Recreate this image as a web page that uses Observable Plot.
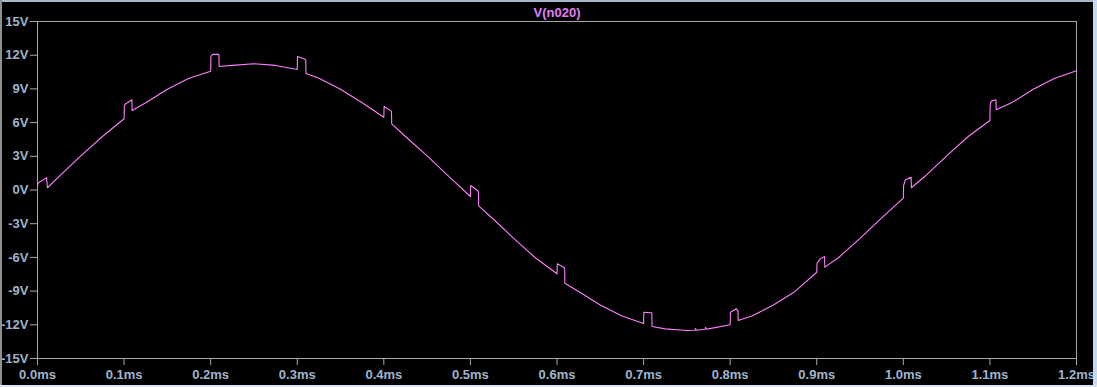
<!DOCTYPE html>
<html>
<head>
<meta charset="utf-8">
<script src="https://cdn.jsdelivr.net/npm/d3@7"></script>
<script src="https://cdn.jsdelivr.net/npm/@observablehq/plot@0.6"></script>
<style>
  html, body { margin: 0; padding: 0; background: #000; }
  #wrap { position: relative; width: 1097px; height: 387px; overflow: hidden; }
  .edge { position: absolute; }
</style>
</head>
<body>
<div id="wrap"></div>
<script>
const traceName = "V(n020)";
const xTicks = [0, 0.1, 0.2, 0.3, 0.4, 0.5, 0.6, 0.7, 0.8, 0.9, 1.0, 1.1, 1.2];
const yTicks = [-15, -12, -9, -6, -3, 0, 3, 6, 9, 12, 15];

// time in ms
const timeMs = [
  0, 0.0005, 0.0105, 0.0115, 0.025, 0.05, 0.075,
  0.1, 0.1003, 0.1015, 0.109, 0.1093, 0.125, 0.15, 0.175,
  0.2, 0.2003, 0.2025, 0.2095, 0.2098, 0.225, 0.25, 0.275,
  0.3, 0.3003, 0.3098, 0.3101, 0.325, 0.35, 0.375,
  0.4, 0.4003, 0.4088, 0.4091, 0.425, 0.45, 0.475,
  0.5, 0.5003, 0.5092, 0.5095, 0.525, 0.55, 0.575,
  0.6, 0.6003, 0.6088, 0.6091, 0.625, 0.65, 0.675,
  0.7, 0.7003, 0.7095, 0.7098, 0.725, 0.75, 0.7595, 0.76, 0.761, 0.771, 0.7715, 0.773, 0.775,
  0.8, 0.8003, 0.8072, 0.809, 0.8093, 0.825, 0.85, 0.875,
  0.9, 0.9003, 0.904, 0.909, 0.9093, 0.925, 0.95, 0.975,
  1.0, 1.0003, 1.0025, 1.009, 1.0093, 1.025, 1.05, 1.075,
  1.1, 1.1003, 1.1015, 1.107, 1.1073, 1.125, 1.15, 1.175,
  1.2
];
// voltage in V at those times
const voltage = [
  0.25, 0.6, 1.10, 0.20, 1.22, 3.03, 4.76,
  6.34, 7.52, 7.65, 8.03, 7.08, 7.76, 8.97, 9.95,
  10.58, 11.91, 12.07, 12.07, 11.00, 11.09, 11.24, 11.09,
  10.73, 11.89, 11.62, 10.37, 9.95, 8.97, 7.76,
  6.48, 7.44, 7.02, 5.89, 4.76, 3.03, 1.22,
  -0.58, 0.40, -0.11, -1.41, -2.49, -4.30, -6.03,
  -7.46, -6.57, -6.93, -8.30, -9.03, -10.24, -11.22,
  -11.89, -10.88, -10.93, -12.15, -12.36, -12.51, -12.48, -12.33, -12.48, -12.40, -12.22, -12.40, -12.36,
  -12.00, -10.88, -10.58, -10.73, -11.62, -11.22, -10.24, -9.03,
  -7.32, -6.52, -6.13, -5.92, -6.87, -6.03, -4.30, -2.49,
  -0.73, 0.40, 0.91, 1.14, 0.20, 1.22, 3.03, 4.76,
  6.19, 7.52, 7.91, 8.03, 7.14, 7.76, 8.97, 9.95,
  10.62
];

const points = timeMs.map((t, i) => ({t, v: voltage[i]}));

const chart = Plot.plot({
  width: 1097,
  height: 387,
  marginLeft: 37,
  marginRight: 21,
  marginTop: 21,
  marginBottom: 29,
  style: {
    background: "#000",
    color: "#9fb4cc",
    fontFamily: "'Liberation Sans', Arial, sans-serif",
    fontSize: "13px",
    fontWeight: "bold"
  },
  x: {domain: [0, 1.2]},
  y: {domain: [-15, 15]},
  marks: [
    Plot.frame({stroke: "#a8a8a8"}),
    Plot.axisX({ticks: xTicks, tickFormat: d => d.toFixed(1) + "ms", tickSize: 7, tickPadding: 4,
                label: null, color: "#9fb4cc", stroke: "#a8a8a8"}),
    Plot.axisY({ticks: yTicks, tickFormat: d => d + "V", tickSize: 7, tickPadding: 2,
                label: null, color: "#9fb4cc", stroke: "#a8a8a8"}),
    Plot.line(points, {x: "t", y: "v", stroke: "#ff80ff", strokeWidth: 1.1}),
    Plot.text([traceName], {frameAnchor: "top", dy: -5, lineAnchor: "bottom",
                            fill: "#e080f8", fontSize: 13, fontWeight: "bold"})
  ]
});

const wrap = document.getElementById("wrap");
wrap.appendChild(chart);
const edges = [
  {left: 0, top: 0, width: 1097, height: 2, bg: "#a8b8cc"},
  {left: 0, top: 0, width: 2, height: 387, bg: "#909090"},
  {left: 1093, top: 0, width: 4, height: 387, bg: "#c4d8ee"},
  {left: 0, top: 385, width: 1097, height: 2, bg: "#dde6f0"}
];
for (const e of edges) {
  const d = document.createElement("div");
  d.className = "edge";
  Object.assign(d.style, {left: e.left + "px", top: e.top + "px", width: e.width + "px", height: e.height + "px", background: e.bg});
  wrap.appendChild(d);
}
</script>
</body>
</html>
